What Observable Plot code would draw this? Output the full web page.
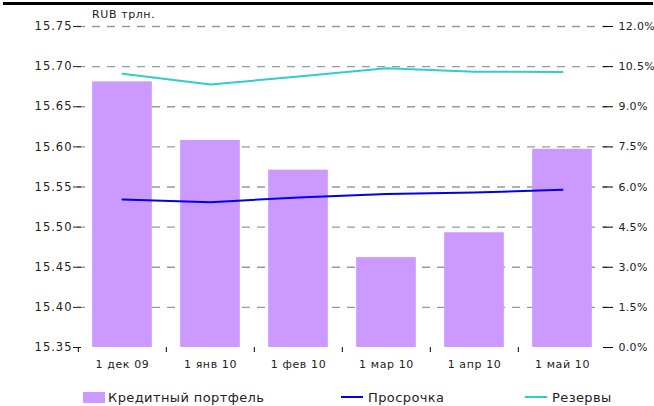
<!DOCTYPE html>
<html>
<head>
<meta charset="utf-8">
<script src="https://cdn.jsdelivr.net/npm/d3@7"></script>
<script src="https://cdn.jsdelivr.net/npm/@observablehq/plot@0.6"></script>
<style>
  html, body { margin: 0; padding: 0; background: #fff; }
  body { width: 654px; height: 406px; position: relative; overflow: hidden;
         font-family: "DejaVu Sans", sans-serif; color: #222; }
  #topbar { position: absolute; left: 3px; top: 2px; width: 650px; height: 3px; background: #000; }
  #unit { position: absolute; left: 92px; top: 8px; font-size: 11px; letter-spacing: 0.6px; }
  #chart { position: absolute; left: 0; top: 0; }
  #legend { position: absolute; left: 0; top: 380px; width: 654px; height: 26px; font-size: 13px; letter-spacing: 0.4px; }
  .item { position: absolute; top: 9px; display: flex; align-items: center; height: 16px; white-space: nowrap; }
  .swatch { display: inline-block; width: 22px; height: 11px; margin-right: 3px; }
  .stroke { display: inline-block; width: 22px; height: 2px; margin-right: 5px; }
</style>
</head>
<body>
<div id="topbar"></div>
<div id="chart"></div>
<div id="unit">RUB трлн.</div>
<div id="legend"></div>
<script>
// Monthly figures, Dec 2009 – May 2010
const months = ["1 дек 09", "1 янв 10", "1 фев 10", "1 мар 10", "1 апр 10", "1 май 10"];
const loanPortfolio = [15.681, 15.608, 15.571, 15.462, 15.493, 15.597]; // RUB trn (left axis)
const overdueShare = [5.53, 5.43, 5.61, 5.74, 5.79, 5.90];              // % (right axis)
const reservesShare = [10.23, 9.83, 10.13, 10.44, 10.31, 10.30];        // % (right axis)

const leftTicks = [15.35, 15.40, 15.45, 15.50, 15.55, 15.60, 15.65, 15.70, 15.75];
const rightTickLabels = ["0.0%", "1.5%", "3.0%", "4.5%", "6.0%", "7.5%", "9.0%", "10.5%", "12.0%"];

const seriesNames = ["Кредитный портфель", "Просрочка", "Резервы"];
const colors = { bars: "#cc99ff", overdue: "#0000ee", reserves: "#33cccc" };

const yMin = leftTicks[0], yMax = leftTicks[leftTicks.length - 1];
const pctMax = 12;
// right-axis percentages expressed on the left-axis scale
const pctToY = p => yMin + (p / pctMax) * (yMax - yMin);

const rows = months.map((m, i) => ({
  month: m,
  loans: loanPortfolio[i],
  overdue: pctToY(overdueShare[i]),
  reserves: pctToY(reservesShare[i])
}));

const W = 654, H = 380;
const mL = 77, mR = 47, mT = 26, mB = 33;
const bandwidth = (W - mL - mR) / months.length;
const barInset = (bandwidth - 60) / 2;
const rightLabel = new Map(leftTicks.map((t, i) => [t, rightTickLabels[i]]));

const chart = Plot.plot({
  width: W, height: H,
  marginLeft: mL, marginRight: mR, marginTop: mT, marginBottom: mB,
  style: { fontFamily: "DejaVu Sans, sans-serif", fontSize: "11px", color: "#222", background: "transparent" },
  x: { type: "band", domain: months, padding: 0, label: null },
  y: { domain: [yMin, yMax], label: null },
  marks: [
    // dashed horizontal grid
    Plot.ruleY(leftTicks.slice(1), { stroke: "#999", strokeWidth: 1.3, strokeDasharray: "8,7" }),
    // loan portfolio bars
    Plot.barY(rows, { x: "month", y1: () => yMin, y2: "loans", fill: colors.bars, insetLeft: barInset, insetRight: barInset }),
    // overdue and reserve ratios
    Plot.line(rows, { x: "month", y: "overdue", stroke: colors.overdue, strokeWidth: 2 }),
    Plot.line(rows, { x: "month", y: "reserves", stroke: colors.reserves, strokeWidth: 2 }),
    // left axis: labels + grey axis line, then crossing ticks
    Plot.axisY({ anchor: "left", ticks: leftTicks, tickFormat: d3.format(".2f"), tickSize: 0, tickPadding: 5, line: true, stroke: "#888", strokeWidth: 2, fontSize: 11.5 }),
    Plot.axisY({ anchor: "left", ticks: leftTicks, tickFormat: () => "", tickSize: 8, dx: 4, stroke: "#222" }),
    // right axis in percent
    Plot.axisY({ anchor: "right", ticks: leftTicks, tickFormat: d => rightLabel.get(d), tickSize: 0, tickPadding: 11, line: true, stroke: "#000" }),
    Plot.axisY({ anchor: "right", ticks: leftTicks, tickFormat: () => "", tickSize: 10, dx: -5, stroke: "#000" }),
    // category axis: labels + baseline, boundary ticks
    Plot.axisX({ anchor: "bottom", tickSize: 0, tickPadding: 13, line: true, stroke: "#000" }),
    Plot.axisX({ anchor: "bottom", tickSize: 5, dx: -bandwidth / 2, tickFormat: () => "", stroke: "#000" })
  ]
});
document.getElementById("chart").appendChild(chart);

// letter spacing of the tick labels
d3.select(chart).selectAll('g[aria-label="y-axis tick label"]')
  .style("letter-spacing", function () { return this.getAttribute("text-anchor") === "end" ? "1px" : "0.3px"; });
d3.select(chart).selectAll('g[aria-label="x-axis tick label"]').style("letter-spacing", "0.6px");

// legend
const legend = document.getElementById("legend");
const items = [
  { name: seriesNames[0], kind: "swatch", color: colors.bars, left: 83 },
  { name: seriesNames[1], kind: "stroke", color: colors.overdue, left: 341 },
  { name: seriesNames[2], kind: "stroke", color: colors.reserves, left: 525 }
];
for (const it of items) {
  const el = document.createElement("div");
  el.className = "item";
  el.style.left = it.left + "px";
  const key = document.createElement("span");
  key.className = it.kind;
  key.style.background = it.color;
  const label = document.createElement("span");
  label.textContent = it.name;
  el.append(key, label);
  legend.appendChild(el);
}
</script>
</body>
</html>
